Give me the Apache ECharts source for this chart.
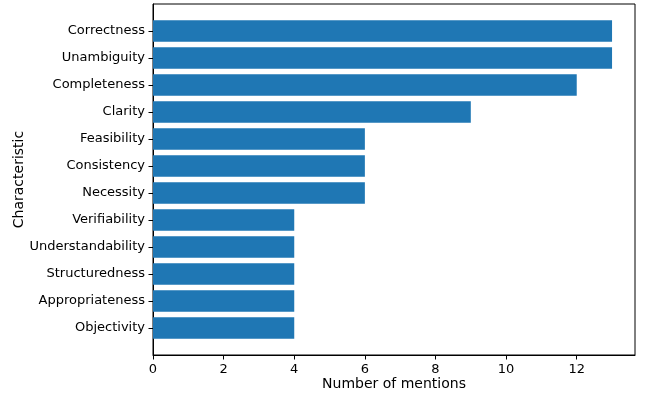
<!DOCTYPE html>
<html>
<head>
<meta charset="utf-8">
<script src="https://cdn.jsdelivr.net/npm/echarts@6/dist/echarts.min.js"></script>
<style>
html,body{margin:0;padding:0;background:#fff;}
#chart{width:646px;height:401px;}
</style>
</head>
<body>
<div id="chart"></div>
<script>
const categories = ['Correctness','Unambiguity','Completeness','Clarity','Feasibility','Consistency','Necessity','Verifiability','Understandability','Structuredness','Appropriateness','Objectivity'];
const mentions = [13, 13, 12, 9, 6, 6, 6, 4, 4, 4, 4, 4];
const xTicks = [0, 2, 4, 6, 8, 10, 12];

const FONT = 'DejaVu Sans';
// pad one empty slot on each end to reproduce the matplotlib axis margins
const yCats = [' '].concat(categories, ['  ']);
const yVals = [null].concat(mentions, [null]);

const chart = echarts.init(document.getElementById('chart'), null, {renderer:'canvas'});
chart.setOption({
  animation: false,
  backgroundColor: '#ffffff',
  grid: {left: 153, right: 11, top: 4, bottom: 46, show: true, borderColor: '#000', borderWidth: 1, backgroundColor: 'transparent'},
  xAxis: {
    type: 'value', min: 0, max: 13.65, interval: 2,
    name: 'Number of mentions', nameLocation: 'middle', nameGap: 22, nameMoveOverlap: false,
    nameTextStyle: {fontFamily: FONT, fontSize: 14, color: '#000'},
    axisLine: {show: true, lineStyle: {color: '#000', width: 1}},
    axisTick: {show: true, length: 4.5, lineStyle: {color: '#000', width: 1}},
    axisLabel: {fontFamily: FONT, fontSize: 13, color: '#000', margin: 8, showMaxLabel: false,
      formatter: v => xTicks.indexOf(v) >= 0 ? String(v) : ''},
    splitLine: {show: false}
  },
  yAxis: {
    type: 'category', data: yCats, inverse: true, boundaryGap: false,
    name: 'Characteristic', nameLocation: 'middle', nameGap: 127, nameMoveOverlap: false,
    nameTextStyle: {fontFamily: FONT, fontSize: 14, color: '#000'},
    axisLine: {show: true, lineStyle: {color: '#000', width: 1}},
    axisTick: {show: true, length: 4.5, lineStyle: {color: '#000', width: 1},
      interval: (i, v) => v.trim() !== ''},
    axisLabel: {fontFamily: FONT, fontSize: 13, color: '#000', margin: 8,
      interval: (i, v) => v.trim() !== ''},
    splitLine: {show: false}
  },
  series: [{
    type: 'bar', data: yVals, barWidth: '80%',
    itemStyle: {color: '#1f77b4'}
  }]
});
</script>
</body>
</html>
